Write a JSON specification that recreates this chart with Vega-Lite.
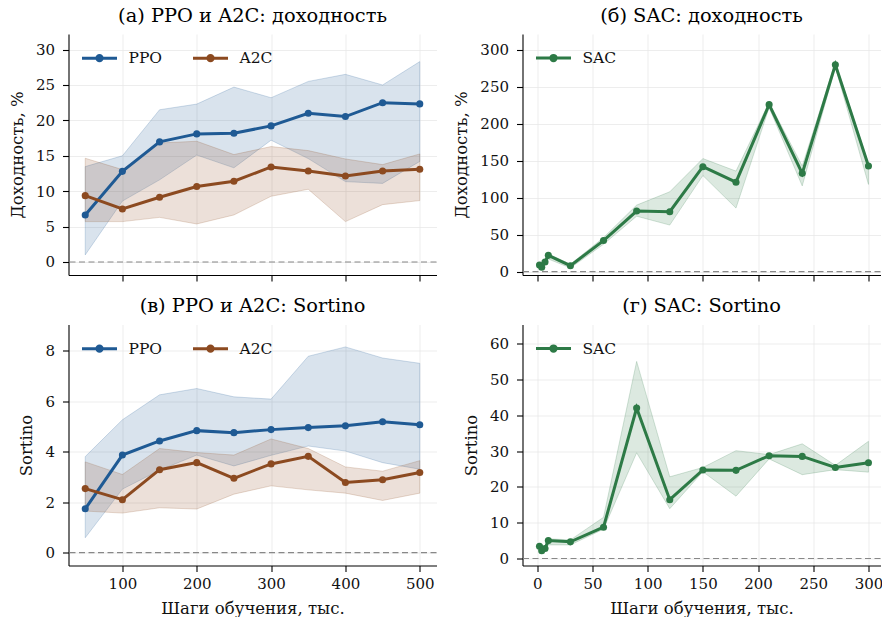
{
  "$schema": "https://vega.github.io/schema/vega-lite/v6.json",
  "padding": {"left": 8.5, "top": 5, "right": 0, "bottom": 0},
  "background": "white",
  "datasets": {
    "ret_ab": [
      {"x": 50, "m": "PPO", "mean": 6.64, "lo": 1.0, "hi": 13.47},
      {"x": 100, "m": "PPO", "mean": 12.8, "lo": 8.6, "hi": 15.0},
      {"x": 150, "m": "PPO", "mean": 16.96, "lo": 11.6, "hi": 21.5},
      {"x": 200, "m": "PPO", "mean": 18.09, "lo": 15.1, "hi": 22.3},
      {"x": 250, "m": "PPO", "mean": 18.18, "lo": 13.3, "hi": 24.7},
      {"x": 300, "m": "PPO", "mean": 19.22, "lo": 17.2, "hi": 23.2},
      {"x": 350, "m": "PPO", "mean": 21.0, "lo": 14.6, "hi": 25.5},
      {"x": 400, "m": "PPO", "mean": 20.54, "lo": 11.35, "hi": 26.5},
      {"x": 450, "m": "PPO", "mean": 22.5, "lo": 11.1, "hi": 25.0},
      {"x": 500, "m": "PPO", "mean": 22.33, "lo": 14.2, "hi": 28.3},
      {"x": 50, "m": "A2C", "mean": 9.37, "lo": 5.7, "hi": 14.65},
      {"x": 100, "m": "A2C", "mean": 7.49, "lo": 5.7, "hi": 13.05},
      {"x": 150, "m": "A2C", "mean": 9.14, "lo": 6.3, "hi": 16.8},
      {"x": 200, "m": "A2C", "mean": 10.65, "lo": 5.37, "hi": 17.05},
      {"x": 250, "m": "A2C", "mean": 11.4, "lo": 6.64, "hi": 15.17},
      {"x": 300, "m": "A2C", "mean": 13.42, "lo": 9.28, "hi": 16.3},
      {"x": 350, "m": "A2C", "mean": 12.86, "lo": 10.27, "hi": 15.73},
      {"x": 400, "m": "A2C", "mean": 12.15, "lo": 5.7, "hi": 14.55},
      {"x": 450, "m": "A2C", "mean": 12.86, "lo": 8.1, "hi": 13.75},
      {"x": 500, "m": "A2C", "mean": 13.1, "lo": 8.67, "hi": 15.26}
    ],
    "sort_ab": [
      {"x": 50, "m": "PPO", "mean": 1.74, "lo": 0.59, "hi": 3.81},
      {"x": 100, "m": "PPO", "mean": 3.87, "lo": 2.52, "hi": 5.27},
      {"x": 150, "m": "PPO", "mean": 4.43, "lo": 3.27, "hi": 6.26},
      {"x": 200, "m": "PPO", "mean": 4.84, "lo": 3.87, "hi": 6.51},
      {"x": 250, "m": "PPO", "mean": 4.76, "lo": 3.44, "hi": 6.18},
      {"x": 300, "m": "PPO", "mean": 4.88, "lo": 3.86, "hi": 6.09},
      {"x": 350, "m": "PPO", "mean": 4.96, "lo": 4.23, "hi": 7.79},
      {"x": 400, "m": "PPO", "mean": 5.03, "lo": 4.03, "hi": 8.16},
      {"x": 450, "m": "PPO", "mean": 5.19, "lo": 3.57, "hi": 7.72},
      {"x": 500, "m": "PPO", "mean": 5.07, "lo": 3.31, "hi": 7.51},
      {"x": 50, "m": "A2C", "mean": 2.54, "lo": 1.65, "hi": 3.6},
      {"x": 100, "m": "A2C", "mean": 2.1, "lo": 1.57, "hi": 3.1},
      {"x": 150, "m": "A2C", "mean": 3.29, "lo": 1.78, "hi": 4.13},
      {"x": 200, "m": "A2C", "mean": 3.57, "lo": 1.73, "hi": 3.97},
      {"x": 250, "m": "A2C", "mean": 2.95, "lo": 2.32, "hi": 3.87},
      {"x": 300, "m": "A2C", "mean": 3.52, "lo": 2.65, "hi": 4.51},
      {"x": 350, "m": "A2C", "mean": 3.82, "lo": 2.49, "hi": 4.13},
      {"x": 400, "m": "A2C", "mean": 2.78, "lo": 2.36, "hi": 3.4},
      {"x": 450, "m": "A2C", "mean": 2.89, "lo": 2.07, "hi": 3.23},
      {"x": 500, "m": "A2C", "mean": 3.18, "lo": 2.36, "hi": 3.65}
    ],
    "ret_sac": [
      {"x": 2, "m": "SAC", "mean": 9, "lo": 6, "hi": 12},
      {"x": 4, "m": "SAC", "mean": 6, "lo": 3, "hi": 9},
      {"x": 7, "m": "SAC", "mean": 13, "lo": 10, "hi": 16},
      {"x": 10, "m": "SAC", "mean": 22, "lo": 17, "hi": 24},
      {"x": 30, "m": "SAC", "mean": 8, "lo": 5, "hi": 10},
      {"x": 60, "m": "SAC", "mean": 42, "lo": 37, "hi": 46},
      {"x": 90, "m": "SAC", "mean": 82, "lo": 75, "hi": 90},
      {"x": 120, "m": "SAC", "mean": 81, "lo": 63, "hi": 108},
      {"x": 150, "m": "SAC", "mean": 142, "lo": 130, "hi": 153},
      {"x": 180, "m": "SAC", "mean": 121, "lo": 86, "hi": 136},
      {"x": 210, "m": "SAC", "mean": 226, "lo": 222, "hi": 229},
      {"x": 240, "m": "SAC", "mean": 133, "lo": 116, "hi": 143},
      {"x": 270, "m": "SAC", "mean": 280, "lo": 277, "hi": 283},
      {"x": 300, "m": "SAC", "mean": 143, "lo": 118, "hi": 146}
    ],
    "sort_sac": [
      {"x": 2, "m": "SAC", "mean": 3.4, "lo": 2.5, "hi": 4.2},
      {"x": 4, "m": "SAC", "mean": 2.2, "lo": 1.5, "hi": 3.0},
      {"x": 7, "m": "SAC", "mean": 2.8, "lo": 2.2, "hi": 3.6},
      {"x": 10, "m": "SAC", "mean": 5.0, "lo": 3.8, "hi": 5.5},
      {"x": 30, "m": "SAC", "mean": 4.65, "lo": 3.8, "hi": 5.2},
      {"x": 60, "m": "SAC", "mean": 8.74, "lo": 8.2, "hi": 11.5},
      {"x": 90, "m": "SAC", "mean": 42.0, "lo": 29.5, "hi": 55.0},
      {"x": 120, "m": "SAC", "mean": 16.4, "lo": 13.9, "hi": 22.8},
      {"x": 150, "m": "SAC", "mean": 24.7, "lo": 24.2, "hi": 25.4},
      {"x": 180, "m": "SAC", "mean": 24.6, "lo": 17.4, "hi": 30.1},
      {"x": 210, "m": "SAC", "mean": 28.7, "lo": 27.8, "hi": 29.0},
      {"x": 240, "m": "SAC", "mean": 28.5, "lo": 23.4, "hi": 32.0},
      {"x": 270, "m": "SAC", "mean": 25.4, "lo": 24.8, "hi": 26.0},
      {"x": 300, "m": "SAC", "mean": 26.7, "lo": 24.1, "hi": 32.7}
    ]
  },
  "columns": 2,
  "spacing": {"row": 13.5, "column": 16},
  "resolve": {"scale": {"color": "independent", "stroke": "independent"}, "legend": {"color": "independent"}},
  "concat": [
    {
      "width": 368, "height": 241,
      "title": {"text": "(а) PPO и A2C: доходность"},
      "data": {"name": "ret_ab"},
      "layer": [
        {
          "mark": {"type": "area", "fillOpacity": 0.17, "strokeOpacity": 0.2, "strokeWidth": 1},
          "encoding": {
            "x": {"field": "x", "type": "quantitative", "scale": {"domain": [27.5, 522.5], "nice": false, "zero": false}, "axis": {"values": [100, 200, 300, 400, 500], "labels": false, "title": null}},
            "y": {"field": "lo", "type": "quantitative", "scale": {"domain": [-1.84, 32.2], "nice": false, "zero": false}, "axis": {"values": [0, 5, 10, 15, 20, 25, 30], "title": "Доходность, %"}},
            "y2": {"field": "hi"},
            "color": {"field": "m", "type": "nominal", "scale": {"domain": ["PPO", "A2C"], "range": ["#1f5a94", "#8c4a20"]}},
            "stroke": {"field": "m", "type": "nominal", "scale": {"domain": ["PPO", "A2C"], "range": ["#1f5a94", "#8c4a20"]}, "legend": null}
          }
        },
        {
          "data": {"values": [{"z": 0}]},
          "mark": {"type": "rule", "strokeDash": [6, 3.5], "color": "#888888", "strokeWidth": 1.1},
          "encoding": {"y": {"field": "z", "type": "quantitative"}}
        },
        {
          "mark": {"type": "line", "strokeWidth": 3},
          "encoding": {
            "x": {"field": "x", "type": "quantitative"},
            "y": {"field": "mean", "type": "quantitative"},
            "color": {"field": "m", "type": "nominal", "legend": {
              "orient": "none", "legendX": 12, "legendY": 5, "direction": "horizontal", "title": null, "padding": 0,
              "symbolType": "M-1,0L1,0M0.15,0A0.15,0.15,0,1,1,-0.15,0A0.15,0.15,0,1,1,0.15,0Z",
              "symbolSize": 1225, "symbolStrokeWidth": 3, "labelOffset": 10, "columnPadding": 24,
              "encode": {"symbols": {"update": {
                "fill": {"signal": "datum.value === 'PPO' ? '#1f5a94' : '#8c4a20'"},
                "stroke": {"signal": "datum.value === 'PPO' ? '#1f5a94' : '#8c4a20'"},
                "opacity": {"value": 1}, "fillOpacity": {"value": 1}, "strokeOpacity": {"value": 1}}}}
            }}
          }
        },
        {
          "mark": {"type": "point", "filled": true, "size": 50, "opacity": 1},
          "encoding": {
            "x": {"field": "x", "type": "quantitative"},
            "y": {"field": "mean", "type": "quantitative"},
            "color": {"field": "m", "type": "nominal"}
          }
        }
      ]
    },
    {
      "width": 358, "height": 241,
      "title": {"text": "(б) SAC: доходность"},
      "data": {"name": "ret_sac"},
      "layer": [
        {
          "mark": {"type": "area", "fillOpacity": 0.17, "strokeOpacity": 0.2, "strokeWidth": 1},
          "encoding": {
            "x": {"field": "x", "type": "quantitative", "scale": {"domain": [-13.4, 310.9], "nice": false, "zero": false}, "axis": {"values": [0, 50, 100, 150, 200, 250, 300], "labels": false, "title": null}},
            "y": {"field": "lo", "type": "quantitative", "scale": {"domain": [-4.6, 321.6], "nice": false, "zero": false}, "axis": {"values": [0, 50, 100, 150, 200, 250, 300], "title": "Доходность, %"}},
            "y2": {"field": "hi"},
            "color": {"field": "m", "type": "nominal", "scale": {"domain": ["SAC"], "range": ["#2d7a46"]}},
            "stroke": {"field": "m", "type": "nominal", "scale": {"domain": ["SAC"], "range": ["#2d7a46"]}, "legend": null}
          }
        },
        {
          "data": {"values": [{"z": 0}]},
          "mark": {"type": "rule", "strokeDash": [6, 3.5], "color": "#888888", "strokeWidth": 1.1},
          "encoding": {"y": {"field": "z", "type": "quantitative"}}
        },
        {
          "mark": {"type": "line", "strokeWidth": 3},
          "encoding": {
            "x": {"field": "x", "type": "quantitative"},
            "y": {"field": "mean", "type": "quantitative"},
            "color": {"field": "m", "type": "nominal", "legend": {
              "orient": "none", "legendX": 12, "legendY": 5, "direction": "horizontal", "title": null, "padding": 0,
              "symbolType": "M-1,0L1,0M0.15,0A0.15,0.15,0,1,1,-0.15,0A0.15,0.15,0,1,1,0.15,0Z",
              "symbolSize": 1225, "symbolStrokeWidth": 3, "labelOffset": 10,
              "encode": {"symbols": {"update": {
                "fill": {"value": "#2d7a46"}, "stroke": {"value": "#2d7a46"},
                "opacity": {"value": 1}, "fillOpacity": {"value": 1}, "strokeOpacity": {"value": 1}}}}
            }}
          }
        },
        {
          "mark": {"type": "point", "filled": true, "size": 50, "opacity": 1},
          "encoding": {
            "x": {"field": "x", "type": "quantitative"},
            "y": {"field": "mean", "type": "quantitative"},
            "color": {"field": "m", "type": "nominal"}
          }
        }
      ]
    },
    {
      "width": 368, "height": 241,
      "title": {"text": "(в) PPO и A2C: Sortino"},
      "data": {"name": "sort_ab"},
      "layer": [
        {
          "mark": {"type": "area", "fillOpacity": 0.17, "strokeOpacity": 0.2, "strokeWidth": 1},
          "encoding": {
            "x": {"field": "x", "type": "quantitative", "scale": {"domain": [27.5, 522.5], "nice": false, "zero": false}, "axis": {"values": [100, 200, 300, 400, 500], "title": "Шаги обучения, тыс."}},
            "y": {"field": "lo", "type": "quantitative", "scale": {"domain": [-0.51, 9.05], "nice": false, "zero": false}, "axis": {"values": [0, 2, 4, 6, 8], "title": "Sortino"}},
            "y2": {"field": "hi"},
            "color": {"field": "m", "type": "nominal", "scale": {"domain": ["PPO", "A2C"], "range": ["#1f5a94", "#8c4a20"]}},
            "stroke": {"field": "m", "type": "nominal", "scale": {"domain": ["PPO", "A2C"], "range": ["#1f5a94", "#8c4a20"]}, "legend": null}
          }
        },
        {
          "data": {"values": [{"z": 0}]},
          "mark": {"type": "rule", "strokeDash": [6, 3.5], "color": "#888888", "strokeWidth": 1.1},
          "encoding": {"y": {"field": "z", "type": "quantitative"}}
        },
        {
          "mark": {"type": "line", "strokeWidth": 3},
          "encoding": {
            "x": {"field": "x", "type": "quantitative"},
            "y": {"field": "mean", "type": "quantitative"},
            "color": {"field": "m", "type": "nominal", "legend": {
              "orient": "none", "legendX": 12, "legendY": 5, "direction": "horizontal", "title": null, "padding": 0,
              "symbolType": "M-1,0L1,0M0.15,0A0.15,0.15,0,1,1,-0.15,0A0.15,0.15,0,1,1,0.15,0Z",
              "symbolSize": 1225, "symbolStrokeWidth": 3, "labelOffset": 10, "columnPadding": 24,
              "encode": {"symbols": {"update": {
                "fill": {"signal": "datum.value === 'PPO' ? '#1f5a94' : '#8c4a20'"},
                "stroke": {"signal": "datum.value === 'PPO' ? '#1f5a94' : '#8c4a20'"},
                "opacity": {"value": 1}, "fillOpacity": {"value": 1}, "strokeOpacity": {"value": 1}}}}
            }}
          }
        },
        {
          "mark": {"type": "point", "filled": true, "size": 50, "opacity": 1},
          "encoding": {
            "x": {"field": "x", "type": "quantitative"},
            "y": {"field": "mean", "type": "quantitative"},
            "color": {"field": "m", "type": "nominal"}
          }
        }
      ]
    },
    {
      "width": 358, "height": 241,
      "title": {"text": "(г) SAC: Sortino"},
      "data": {"name": "sort_sac"},
      "layer": [
        {
          "mark": {"type": "area", "fillOpacity": 0.17, "strokeOpacity": 0.2, "strokeWidth": 1},
          "encoding": {
            "x": {"field": "x", "type": "quantitative", "scale": {"domain": [-13.4, 310.9], "nice": false, "zero": false}, "axis": {"values": [0, 50, 100, 150, 200, 250, 300], "title": "Шаги обучения, тыс."}},
            "y": {"field": "lo", "type": "quantitative", "scale": {"domain": [-1.95, 65.3], "nice": false, "zero": false}, "axis": {"values": [0, 10, 20, 30, 40, 50, 60], "title": "Sortino"}},
            "y2": {"field": "hi"},
            "color": {"field": "m", "type": "nominal", "scale": {"domain": ["SAC"], "range": ["#2d7a46"]}},
            "stroke": {"field": "m", "type": "nominal", "scale": {"domain": ["SAC"], "range": ["#2d7a46"]}, "legend": null}
          }
        },
        {
          "data": {"values": [{"z": 0}]},
          "mark": {"type": "rule", "strokeDash": [6, 3.5], "color": "#888888", "strokeWidth": 1.1},
          "encoding": {"y": {"field": "z", "type": "quantitative"}}
        },
        {
          "mark": {"type": "line", "strokeWidth": 3},
          "encoding": {
            "x": {"field": "x", "type": "quantitative"},
            "y": {"field": "mean", "type": "quantitative"},
            "color": {"field": "m", "type": "nominal", "legend": {
              "orient": "none", "legendX": 12, "legendY": 5, "direction": "horizontal", "title": null, "padding": 0,
              "symbolType": "M-1,0L1,0M0.15,0A0.15,0.15,0,1,1,-0.15,0A0.15,0.15,0,1,1,0.15,0Z",
              "symbolSize": 1225, "symbolStrokeWidth": 3, "labelOffset": 10,
              "encode": {"symbols": {"update": {
                "fill": {"value": "#2d7a46"}, "stroke": {"value": "#2d7a46"},
                "opacity": {"value": 1}, "fillOpacity": {"value": 1}, "strokeOpacity": {"value": 1}}}}
            }}
          }
        },
        {
          "mark": {"type": "point", "filled": true, "size": 50, "opacity": 1},
          "encoding": {
            "x": {"field": "x", "type": "quantitative"},
            "y": {"field": "mean", "type": "quantitative"},
            "color": {"field": "m", "type": "nominal"}
          }
        }
      ]
    }
  ],
  "config": {
    "font": "DejaVu Serif",
    "view": {"stroke": null},
    "title": {"font": "DejaVu Serif", "fontSize": 19.4, "fontWeight": "normal", "color": "#000000", "frame": "group", "anchor": "middle", "offset": 8, "baseline": "alphabetic"},
    "axis": {
      "labelFont": "DejaVu Serif", "labelFontSize": 15, "labelColor": "#111111",
      "titleFont": "DejaVu Serif", "titleFontSize": 16.5, "titleFontWeight": "normal", "titleColor": "#111111",
      "domainColor": "#000000", "domainWidth": 1.1, "tickColor": "#000000", "tickWidth": 1.1, "tickSize": 6,
      "labelPadding": 8, "titlePadding": 10, "grid": true, "gridColor": "#e8e8e8", "gridWidth": 0.8
    },
    "axisX": {"labelPadding": 5, "titlePadding": 9},
    "legend": {"labelFont": "DejaVu Serif", "labelFontSize": 15.5, "labelColor": "#111111"}
  }
}
